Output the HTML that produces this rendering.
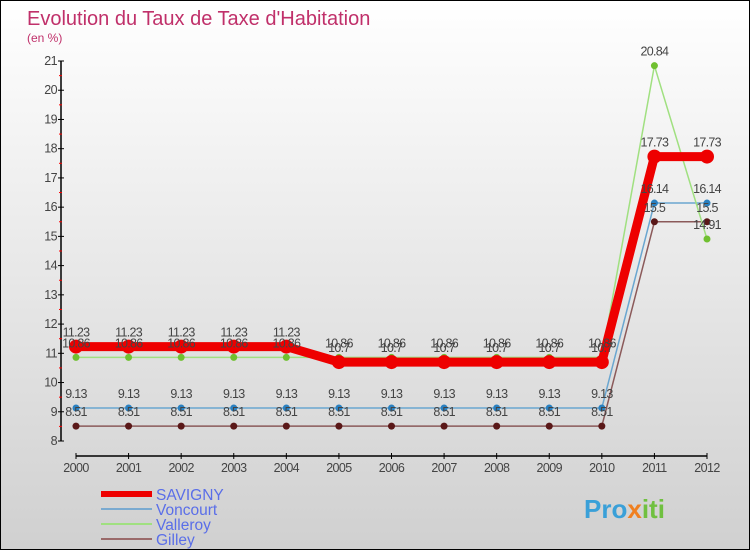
<!DOCTYPE html>
<html><head><meta charset="utf-8"><style>
body{margin:0}
#wrap{width:750px;height:550px;position:relative;box-sizing:border-box;border:1px solid #000;background:linear-gradient(#ffffff,#d0d0d0);overflow:hidden;font-family:"Liberation Sans",sans-serif}
</style></head><body>
<div id="wrap">
<svg id="svg" width="750" height="550" xmlns="http://www.w3.org/2000/svg">
<text x="26" y="24" font-size="20" fill="#c0306a">Evolution du Taux de Taxe d'Habitation</text>
<text x="26" y="41" font-size="12" fill="#c0306a">(en %)</text>
<g id="axes"></g><g id="series"></g><g id="legend"></g>
<text x="583" y="517" font-size="26" font-weight="bold" fill="#3aa0d8">Pro<tspan fill="#f08020">x</tspan><tspan fill="#70c040">iti</tspan></text>
</svg>
</div>
<script>
const years=[2000,2001,2002,2003,2004,2005,2006,2007,2008,2009,2010,2011,2012];
const savigny=[11.23,11.23,11.23,11.23,11.23,10.7,10.7,10.7,10.7,10.7,10.7,17.73,17.73];
const voncourt=[9.13,9.13,9.13,9.13,9.13,9.13,9.13,9.13,9.13,9.13,9.13,16.14,16.14];
const valleroy=[10.86,10.86,10.86,10.86,10.86,10.86,10.86,10.86,10.86,10.86,10.86,20.84,14.91];
const gilley=[8.51,8.51,8.51,8.51,8.51,8.51,8.51,8.51,8.51,8.51,8.51,15.5,15.5];
const yTicks=[8,9,10,11,12,13,14,15,16,17,18,19,20,21];
const NS="http://www.w3.org/2000/svg";
const X=i=>75+i*(706-75)/(years.length-1);
const Y=v=>440-(v-8)*(380/13);
function mk(t,a,p){const e=document.createElementNS(NS,t);for(const k in a)e.setAttribute(k,a[k]);p.appendChild(e);return e;}
const ax=document.getElementById('axes');
let e=mk('line',{x1:60,y1:Y(21),x2:60,y2:440,stroke:'#000','stroke-width':1.5},ax);


e=mk('line',{x1:75,y1:455,x2:706,y2:455,stroke:'#000','stroke-width':1.5},ax);


yTicks.forEach(v=>{
 mk('line',{x1:57,y1:Y(v),x2:63,y2:Y(v),stroke:'#000'},ax);
 if(v<21)mk('line',{x1:58,y1:Y(v+0.5),x2:61,y2:Y(v+0.5),stroke:'#f00'},ax);
 const t=mk('text',{x:56,y:Y(v)+4,'font-size':12.5,'text-anchor':'end',fill:'#444','letter-spacing':'-0.6'},ax);
 t.textContent=v;
 
 
});
years.forEach((y,i)=>{
 mk('line',{x1:X(i),y1:452,x2:X(i),y2:458,stroke:'#000'},ax);
 const t=mk('text',{x:X(i),y:471,'font-size':12.5,'text-anchor':'middle',fill:'#444','letter-spacing':'-0.6'},ax);
 t.textContent=y;
 
 
});
const sg=document.getElementById('series');
const defs=[
 {n:'gilley',d:gilley,c:'#8b5a5a',m:'#5a1818',w:1.5,r:3.5},
 {n:'voncourt',d:voncourt,c:'#6aa6d0',m:'#2a80c0',w:1.5,r:3.5},
 {n:'valleroy',d:valleroy,c:'#a0e080',m:'#70c030',w:1.5,r:3.5},
 {n:'savigny',d:savigny,c:'#ee0000',m:'#ee0000',w:9,r:7}
];
defs.forEach(s=>{
 const pl=mk('polyline',{points:s.d.map((v,i)=>X(i)+','+Y(v)).join(' '),fill:'none',stroke:s.c,'stroke-width':s.w},sg);
 
 
 s.d.forEach((v,i)=>{
  const c=mk('circle',{cx:X(i),cy:Y(v),r:s.r,fill:s.m},sg);
  
  
 });
});
defs.slice().reverse().forEach(s=>{
 s.d.forEach((v,i)=>{
  const t=mk('text',{x:X(i),y:Y(v)-10,'font-size':12.5,'text-anchor':'middle',fill:'#444','letter-spacing':'-0.7'},sg);
  t.textContent=v;
  
  
 });
});
const lg=document.getElementById('legend');
const leg=[['SAVIGNY','#ee0000',6],['Voncourt','#7aaad0',2],['Valleroy','#a0e080',2],['Gilley','#9a6a6a',2]];
leg.forEach((l,i)=>{
 const y=493+i*15;
 const ln=mk('line',{x1:100,y1:y,x2:151,y2:y,stroke:l[1],'stroke-width':l[2]},lg);
 
 
 const t=mk('text',{x:155,y:y+6,'font-size':15.5,fill:'#5a6ee8'},lg);
 t.textContent=l[0];
 
 
});
</script>
</body></html>
